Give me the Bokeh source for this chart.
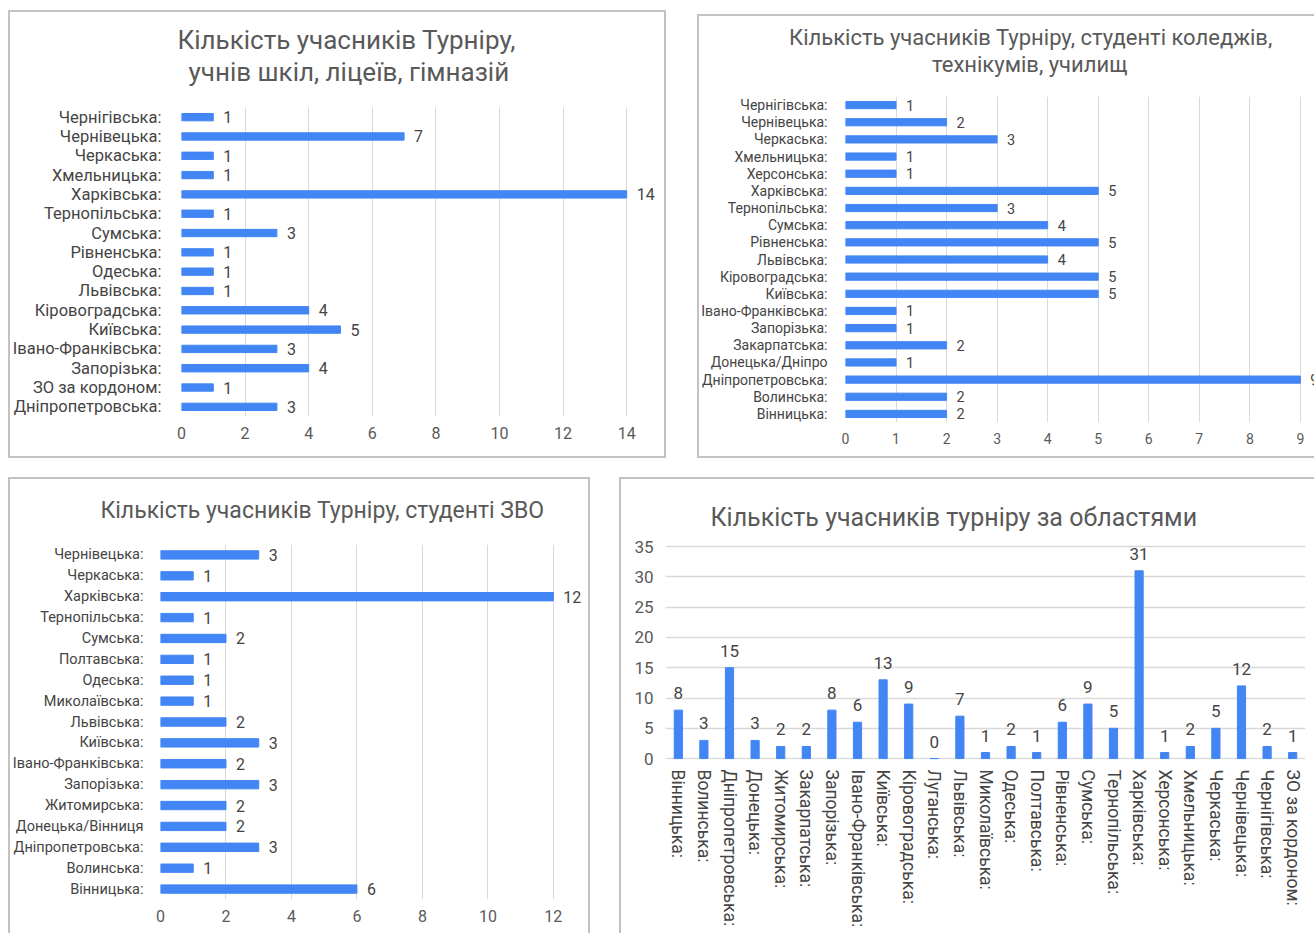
from bokeh.plotting import figure
from bokeh.models import (ColumnDataSource, FactorRange, Range1d, FixedTicker,
                          LabelSet, Title, Spacer)
from bokeh.layouts import row, column
from bokeh.core.properties import value
from bokeh.embed import file_html
from bokeh.resources import INLINE

# ---------------- data ----------------
school_cats = ["Чернігівська:", "Чернівецька:", "Черкаська:", "Хмельницька:", "Харківська:",
               "Тернопільська:", "Сумська:", "Рівненська:", "Одеська:", "Львівська:",
               "Кіровоградська:", "Київська:", "Івано-Франківська:", "Запорізька:",
               "ЗО за кордоном:", "Дніпропетровська:"]
school_vals = [1, 7, 1, 1, 14, 1, 3, 1, 1, 1, 4, 5, 3, 4, 1, 3]
school_ticks = [0, 2, 4, 6, 8, 10, 12, 14]

college_cats = ["Чернігівська:", "Чернівецька:", "Черкаська:", "Хмельницька:", "Херсонська:",
                "Харківська:", "Тернопільська:", "Сумська:", "Рівненська:", "Львівська:",
                "Кіровоградська:", "Київська:", "Івано-Франківська:", "Запорізька:",
                "Закарпатська:", "Донецька/Дніпро", "Дніпропетровська:", "Волинська:",
                "Вінницька:"]
college_vals = [1, 2, 3, 1, 1, 5, 3, 4, 5, 4, 5, 5, 1, 1, 2, 1, 9, 2, 2]
college_ticks = [0, 1, 2, 3, 4, 5, 6, 7, 8, 9]

uni_cats = ["Чернівецька:", "Черкаська:", "Харківська:", "Тернопільська:", "Сумська:",
            "Полтавська:", "Одеська:", "Миколаївська:", "Львівська:", "Київська:",
            "Івано-Франківська:", "Запорізька:", "Житомирська:", "Донецька/Вінниця",
            "Дніпропетровська:", "Волинська:", "Вінницька:"]
uni_vals = [3, 1, 12, 1, 2, 1, 1, 1, 2, 3, 2, 3, 2, 2, 3, 1, 6]
uni_ticks = [0, 2, 4, 6, 8, 10, 12]

region_cats = ["Вінницька:", "Волинська:", "Дніпропетровська:", "Донецька:", "Житомирська:",
               "Закарпатська:", "Запорізька:", "Івано-Франківська:", "Київська:",
               "Кіровоградська:", "Луганська:", "Львівська:", "Миколаївська:", "Одеська:",
               "Полтавська:", "Рівненська:", "Сумська:", "Тернопільська:", "Харківська:",
               "Херсонська:", "Хмельницька:", "Черкаська:", "Чернівецька:", "Чернігівська:",
               "ЗО за кордоном:"]
region_vals = [8, 3, 15, 3, 2, 2, 8, 6, 13, 9, 0, 7, 1, 2, 1, 6, 9, 5, 31, 1, 2, 5, 12, 2, 1]
region_ticks = [0, 5, 10, 15, 20, 25, 30, 35]

titles_school = ["Кількість учасників  Турніру,", "учнів  шкіл, ліцеїв, гімназій"]
titles_college = ["Кількість учасників  Турніру, студенті  коледжів,", "технікумів,  училищ"]
titles_uni = ["Кількість учасників  Турніру, студенті ЗВО"]
titles_region = ["Кількість учасників турніру за областями"]

BLUE = "#4285F4"
GRID = "#d9d9d9"
TXT = "#444444"
TTL = "#595959"
FONT = "Roboto"
BORDER = "#c2c2c2"


def add_titles(p, lines, size, offsets, standoff=0):
    for line, off in reversed(list(zip(lines, offsets))):
        p.add_layout(Title(text=line, align="left", offset=off, text_font=FONT,
                           text_font_size=size, text_color=TTL, text_font_style="normal",
                           standoff=standoff), "above")


def title_figure(width, height, title_bottom, left, right, lines, size, offsets):
    # a figure that only carries the title lines; its empty frame sits below them
    t = figure(width=width, height=height, output_backend="svg", toolbar_location=None,
               x_axis_type=None, y_axis_type=None,
               min_border_left=left, min_border_right=right,
               min_border_top=title_bottom, min_border_bottom=0)
    t.title = None
    t.grid.visible = False
    t.outline_line_color = None
    t.border_fill_color = None
    t.background_fill_color = None
    add_titles(t, lines, size, offsets)
    return t


def style_axes(p):
    for ax in (p.xaxis[0], p.yaxis[0]):
        ax.axis_line_color = None
        ax.major_tick_line_color = None
        ax.minor_tick_line_color = None
        ax.major_tick_out = 0
        ax.major_tick_in = 0
        ax.major_label_text_font = FONT
        ax.major_label_text_color = TXT
    p.outline_line_color = None
    p.border_fill_color = None
    p.background_fill_color = None


def hbar_panel(cats, vals, ticks, width, height, borders, xend, label_size, tick_size,
               value_size, bar_h, cat_standoff, tick_standoff, value_off):
    left, right, top, bottom = borders
    p = figure(width=width, height=height, output_backend="svg", toolbar_location=None,
               y_range=FactorRange(factors=list(reversed(cats)), range_padding=0),
               x_range=Range1d(0, xend),
               min_border_left=left, min_border_right=right,
               min_border_top=top, min_border_bottom=bottom)
    p.title = None
    src = ColumnDataSource(dict(cat=cats, val=vals, lbl=[str(v) for v in vals]))
    p.hbar(y="cat", right="val", left=0, height=bar_h, source=src, color=BLUE)
    p.add_layout(LabelSet(x="val", y="cat", text="lbl", source=src, x_offset=value_off,
                          text_align="left", text_baseline="middle", text_font=value(FONT),
                          text_font_size=value(value_size), text_color=TXT))
    p.xaxis.ticker = FixedTicker(ticks=ticks)
    p.xgrid.ticker = FixedTicker(ticks=ticks)
    p.ygrid.grid_line_color = None
    p.xgrid.grid_line_color = GRID
    p.xgrid.grid_line_width = 1
    style_axes(p)
    p.yaxis.major_label_text_font_size = label_size
    p.yaxis.major_label_standoff = cat_standoff
    p.xaxis.major_label_text_font_size = tick_size
    p.xaxis.major_label_text_color = TTL
    p.xaxis.major_label_standoff = tick_standoff
    return p


# panel 1: schools
t1 = title_figure(658, 80, 76, 173, 8, titles_school, "26px", [-4, 7])
p1 = hbar_panel(school_cats, school_vals, school_ticks, 658, 368, (173, 8, 17, 42), 15.0,
                "16.5px", "16px", "16px", 0.38, 20, 10, 10)
panel1 = column(row(t1), row(p1))
panel1.styles = {"box-shadow": f"inset 0 0 0 2px {BORDER}"}

# panel 2: colleges
t2 = title_figure(617, 66, 62, 148, 0, titles_college, "22px", [-56.5, 86.5])
p2 = hbar_panel(college_cats, college_vals, college_ticks, 617, 378, (148, 0, 16, 36), 9.28,
                "14px", "14px", "14.5px", 0.42, 18, 10, 10)
panel2 = column(row(t2), row(p2))
panel2.styles = {"box-shadow": f"inset 2px 2px 0 {BORDER}, inset 0 -2px 0 {BORDER}"}

# panel 3: universities
t3 = title_figure(582, 50, 46, 152, 8, titles_uni, "23px", [-60])
p3 = hbar_panel(uni_cats, uni_vals, uni_ticks, 582, 406, (152, 8, 17, 34), 12.89,
                "14.5px", "16px", "16px", 0.4, 17, 10, 10)
panel3 = column(row(t3), row(p3))
panel3.styles = {"box-shadow": f"inset 2px 2px 0 {BORDER}, inset -2px 0 0 {BORDER}"}

# ---------------- panel 4: vertical bar chart ----------------
p4 = figure(width=695, height=456, output_backend="svg", toolbar_location=None,
            x_range=FactorRange(factors=region_cats, range_padding=0),
            y_range=Range1d(-0.15, 35.34),
            min_border_left=46, min_border_right=9, min_border_top=67, min_border_bottom=174)
p4.title = None
src4 = ColumnDataSource(dict(cat=region_cats, val=region_vals, lbl=[str(v) for v in region_vals]))
p4.vbar(x="cat", top="val", bottom=0, width=0.32, source=src4, color=BLUE)
p4.add_layout(LabelSet(x="cat", y="val", text="lbl", source=src4, y_offset=11,
                       text_align="center", text_baseline="bottom", text_font=value(FONT),
                       text_font_size=value("17px"), text_color=TXT))
p4.yaxis.ticker = FixedTicker(ticks=region_ticks)
p4.ygrid.ticker = FixedTicker(ticks=region_ticks)
p4.xgrid.grid_line_color = None
p4.ygrid.grid_line_color = GRID
p4.ygrid.grid_line_width = 1.5
style_axes(p4)
p4.xaxis.major_label_orientation = "vertical"
p4.xaxis.major_label_text_font_size = "17.5px"
p4.xaxis.major_label_standoff = 10
p4.yaxis.major_label_text_font_size = "17px"
p4.yaxis.major_label_text_color = TTL
p4.yaxis.major_label_standoff = 12
add_titles(p4, titles_region, "25px", [45], standoff=26)
p4.styles = {"box-shadow": f"inset 2px 2px 0 {BORDER}"}

top_row = row(column(Spacer(width=658, height=2), panel1), Spacer(width=31, height=10),
              column(Spacer(width=617, height=6), panel2))
bottom_row = row(column(Spacer(width=582, height=1), panel3), Spacer(width=29, height=10),
                 column(Spacer(width=695, height=1), p4))
content = column(top_row, Spacer(width=10, height=18), bottom_row)
layout = row(Spacer(width=8, height=10), column(Spacer(width=10, height=8), content))

open("out.html", "w").write(file_html(layout, INLINE))
